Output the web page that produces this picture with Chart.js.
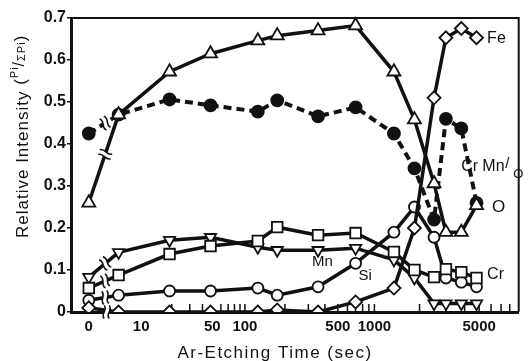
<!DOCTYPE html>
<html>
<head>
<meta charset="utf-8">
<script src="https://cdn.jsdelivr.net/npm/chart.js@4"></script>
<style>
  body { margin: 0; background: #fff; }
  #wrap { width: 528px; height: 361px; }
</style>
</head>
<body>
<div id="wrap"><canvas id="aesChart" width="528" height="361"></canvas></div>
<script>
// Etching times (sec) of the measured points
const times = [0, 6, 19, 48, 125, 175, 355, 700, 1350, 1850, 2500, 3000, 3800, 4800];

// Relative intensity Pi / ΣPi for each element
const oxygen    = [0.26, 0.47, 0.572, 0.615, 0.646, 0.658, 0.67, 0.682, 0.572, 0.458, 0.306, 0.19, 0.19, 0.254];
const iron      = [0.01, 0, 0, 0, 0, 0.005, 0, 0.024, 0.057, 0.2, 0.51, 0.653, 0.675, 0.653];
const chromium  = [0.057, 0.088, 0.138, 0.157, 0.169, 0.202, 0.183, 0.188, 0.143, 0.1, 0.083, 0.102, 0.095, 0.081];
const manganese = [0.083, 0.142, 0.171, 0.178, 0.154, 0.147, 0.147, 0.152, 0.124, 0.081, 0.02, 0.02, 0.02, 0.02];
const silicon   = [0.028, 0.04, 0.05, 0.05, 0.057, 0.04, 0.06, 0.116, 0.19, 0.25, 0.178, 0.081, 0.071, 0.06];
const crmnRatio = [0.425, 0.47, 0.506, 0.492, 0.477, 0.504, 0.466, 0.487, 0.425, 0.342, 0.22, 0.46, 0.437, 0.26];

// Axis labels
const tickTimes  = [0, 10, 50, 100, 500, 1000, 5000];
const tickLabels = ['0', '10', '50', '100', '500', '1000', '5000'];
const minorTimes = [20, 30, 40, 60, 70, 80, 90, 100, 200, 300, 400, 500, 600, 700, 800, 900,
                    1000, 2000, 3000, 4000, 5000, 6000, 7000, 8000];

// The original time axis is hand drawn: a broken axis at 0, then log-like
// segments of unequal length. These are the distances along the axis
// (arbitrary units) of the labelled times.
const axisTimes = [0, 10, 50, 100, 500, 1000, 5000];
const axisSpots = [0, 53, 125, 158, 252, 289, 395];

function toAxis(t) {
    if (t <= 0) return axisSpots[0];
    let i = 1;
    while (i < axisTimes.length - 2 && t > axisTimes[i + 1]) i++;
    const t0 = axisTimes[i], t1 = axisTimes[i + 1];
    const s0 = axisSpots[i], s1 = axisSpots[i + 1];
    return s0 + (s1 - s0) * Math.log10(t / t0) / Math.log10(t1 / t0);
}

function points(values) {
    return times.map((t, i) => ({ x: toAxis(t), y: values[i] }));
}

// In-plot labels, placed at (time, intensity)
const seriesLabels = [
    { text: 'Fe', t: 5650, v: 0.651, size: 16 },
    { text: 'O',  t: 6100, v: 0.249, size: 17 },
    { text: 'Cr', t: 5650, v: 0.088, size: 16 },
    { text: 'Mn', t: 320,  v: 0.119, size: 15 },
    { text: 'Si', t: 741,  v: 0.0855, size: 15 }
];

const INK = '#111';
const FONT = "'Liberation Sans', Arial, sans-serif";

function breakMark(ctx, x, y, angle) {
    ctx.save();
    ctx.translate(x, y);
    ctx.rotate(angle);
    ctx.fillStyle = '#fff';
    ctx.fillRect(-2.5, -3.5, 5, 7);
    ctx.strokeStyle = INK;
    ctx.lineWidth = 1.6;
    [-2.5, 2.5].forEach(o => {
        ctx.beginPath();
        ctx.moveTo(o, -6.5);
        ctx.bezierCurveTo(o + 4, -2, o - 4, 2, o, 6.5);
        ctx.stroke();
    });
    ctx.restore();
}

const decorations = {
    id: 'decorations',
    beforeDatasetsDraw(chart) {
        const { ctx, chartArea: a, scales: { x } } = chart;
        ctx.save();
        ctx.strokeStyle = INK;
        ctx.lineWidth = 2;
        ctx.beginPath();
        ctx.moveTo(a.left, a.top);
        ctx.lineTo(a.right, a.top);
        ctx.lineTo(a.right, a.bottom);
        ctx.stroke();

        ctx.lineWidth = 1.5;
        minorTimes.forEach(t => {
            const px = x.getPixelForValue(toAxis(t));
            ctx.beginPath();
            ctx.moveTo(px, a.bottom);
            ctx.lineTo(px, a.bottom - 8);
            ctx.stroke();
        });
        ctx.restore();
    },
    afterDatasetsDraw(chart) {
        const { ctx, chartArea: a, scales: { x } } = chart;
        // break marks on the first segment of every line
        chart.data.datasets.forEach((ds, i) => {
            const meta = chart.getDatasetMeta(i);
            const p0 = meta.data[0], p1 = meta.data[1];
            if (!p0 || !p1 || ds.noBreak) return;
            const f = 0.55;
            const bx = p0.x + f * (p1.x - p0.x);
            const by = p0.y + f * (p1.y - p0.y);
            breakMark(ctx, bx, by, Math.atan2(p1.y - p0.y, p1.x - p0.x));
        });
        // break on the time axis
        const ax = x.getPixelForValue(toAxis(0)) + 0.6 * (x.getPixelForValue(toAxis(6)) - x.getPixelForValue(toAxis(0)));
        breakMark(ctx, ax, a.bottom, 0);
    },
    afterDraw(chart) {
        const { ctx, scales: { x, y } } = chart;
        ctx.save();
        ctx.fillStyle = INK;
        ctx.textBaseline = 'middle';
        ctx.textAlign = 'left';

        seriesLabels.forEach(l => {
            ctx.font = l.size + 'px ' + FONT;
            ctx.fillText(l.text, x.getPixelForValue(toAxis(l.t)), y.getPixelForValue(l.v));
        });

        // "Cr Mn / O" label of the ratio curve
        const rx = x.getPixelForValue(toAxis(3800));
        const ry = y.getPixelForValue(0.347);
        ctx.font = '16px ' + FONT;
        ctx.fillText('Cr', rx, ry);
        ctx.fillText('Mn', rx + 21, ry);
        ctx.font = '15px ' + FONT;
        ctx.fillText('/', rx + 44, ry - 2);
        ctx.font = '13px ' + FONT;
        ctx.fillText('O', rx + 52, ry + 8);

        // x title
        ctx.font = '17px ' + FONT;
        ctx.letterSpacing = '1.5px';
        ctx.textAlign = 'center';
        ctx.fillText('Ar-Etching Time (sec)', 275, 353);

        // y title, rotated
        ctx.translate(28, 238);
        ctx.rotate(-Math.PI / 2);
        ctx.textAlign = 'left';
        ctx.textBaseline = 'alphabetic';
        ctx.letterSpacing = '1px';
        let cx = 0;
        const part = (s, font, dy) => {
            ctx.font = font;
            ctx.fillText(s, cx, dy);
            cx += ctx.measureText(s).width;
        };
        part('Relative Intensity ', '17px ' + FONT, 0);
        part('(', '17px ' + FONT, -2);
        part('Pi', '11px ' + FONT, -10);
        part('/', '16px ' + FONT, -4);
        part('ΣPi', '11px ' + FONT, -3);
        part(')', '17px ' + FONT, -2);
        ctx.restore();
    }
};

const lineBase = {
    borderColor: INK,
    borderWidth: 3.5,
    pointBorderColor: INK,
    pointBackgroundColor: '#fff',
    pointBorderWidth: 1.8,
    tension: 0,
    clip: { left: 10, top: 10, right: 10, bottom: 0 }
};

new Chart(document.getElementById('aesChart').getContext('2d'), {
    type: 'line',
    data: {
        datasets: [
            { ...lineBase, label: 'O', data: points(oxygen), pointStyle: 'triangle', pointRadius: 7.5 },
            { ...lineBase, label: 'Fe', data: points(iron), pointStyle: 'rectRot', pointRadius: 6.5, noBreak: true },
            { ...lineBase, label: 'Cr', data: points(chromium), pointStyle: 'rect', pointRadius: 7.5 },
            { ...lineBase, label: 'Mn', data: points(manganese), pointStyle: 'triangle', pointRotation: 180, pointRadius: 6.5 },
            { ...lineBase, label: 'Si', data: points(silicon), pointStyle: 'circle', pointRadius: 5.5 },
            {
                ...lineBase, label: 'CrMn/O', data: points(crmnRatio),
                borderDash: [8, 5], borderWidth: 4,
                pointStyle: 'circle', pointRadius: 6, pointBackgroundColor: INK
            }
        ]
    },
    options: {
        responsive: false,
        animation: false,
        devicePixelRatio: 1,
        layout: { padding: { top: 18, right: 4, left: 0, bottom: 0 } },
        plugins: {
            legend: { display: false },
            tooltip: { enabled: false }
        },
        scales: {
            x: {
                type: 'linear',
                min: -18,
                max: 435,
                afterFit: scale => { scale.height = 49; },
                afterBuildTicks: scale => {
                    scale.ticks = tickTimes.map(t => ({ value: toAxis(t) }));
                },
                grid: { display: false, drawTicks: false },
                border: { display: true, color: INK, width: 3 },
                ticks: {
                    autoSkip: false,
                    maxRotation: 0,
                    padding: 6,
                    color: INK,
                    font: { family: FONT, size: 15, weight: 'bold' },
                    callback: (value, index) => tickLabels[index]
                }
            },
            y: {
                min: 0,
                max: 0.7,
                afterFit: scale => { scale.width = 71; },
                grid: { display: true, drawOnChartArea: false, drawTicks: true, tickLength: 4, color: INK, lineWidth: 1.5 },
                border: { display: true, color: INK, width: 3 },
                ticks: {
                    stepSize: 0.1,
                    padding: 1,
                    color: INK,
                    font: { family: FONT, size: 16, weight: 'bold' },
                    callback: v => v === 0 ? '0' : v.toFixed(1)
                }
            }
        }
    },
    plugins: [decorations]
});
</script>
</body>
</html>
